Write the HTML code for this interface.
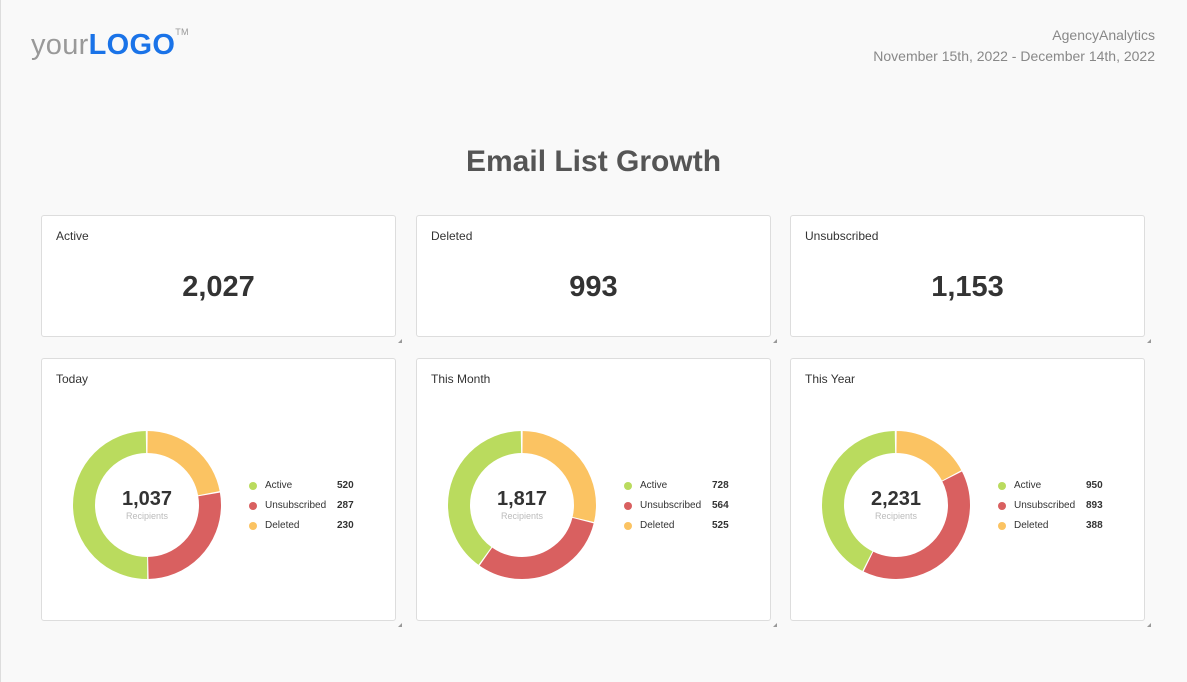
<!DOCTYPE html>
<html><head><style>
body{margin:0;width:1187px;height:682px;background:#f9f9f9;font-family:"Liberation Sans",Arial,sans-serif;position:relative;overflow:hidden}
.edge{position:absolute;left:0;top:0;width:1px;height:682px;background:#ddd}
.logo{position:absolute;left:31px;top:29px;font-size:29px;letter-spacing:.3px}
.logo .y{color:#999}.logo .l{color:#1a73e8;font-weight:bold}
.logo sup{font-size:9px;color:#999;vertical-align:top;position:relative;top:-2px}
.hdr{position:absolute;right:32px;top:25px;text-align:right;color:#888;font-size:14px;line-height:21px}
h1{position:absolute;left:0;width:1187px;top:145px;margin:0;text-align:center;font-size:30px;color:#555;font-weight:bold}
.card{position:absolute;background:#fff;border:1px solid #ddd;border-radius:3px;box-sizing:border-box}
.card .t{position:absolute;left:14px;top:13px;font-size:12px;color:#333}
.card .big{position:absolute;left:0;right:0;top:55px;text-align:center;font-size:29px;font-weight:bold;color:#333}
.rs{position:absolute;width:0;height:0;border-left:4px solid transparent;border-bottom:4px solid #999}
.ctr{position:absolute;width:120px;text-align:center;line-height:1}
.ctr b{display:block;font-size:20px;color:#333}
.ctr span{display:block;margin-top:3px;font-size:9px;color:#bbb}
.lg{position:absolute;font-size:10px;color:#333}
.lg div{position:relative;height:20px}
.lg i{position:absolute;left:0;top:1px;width:8px;height:8px;border-radius:50%}
.lg span{position:absolute;left:16px;top:-1px}
.lg b{position:absolute;left:88px;top:-1px}
</style></head><body>
<div class="edge"></div>
<div class="logo"><span class="y">your</span><span class="l">LOGO</span><sup>TM</sup></div>
<div class="hdr">AgencyAnalytics<br>November 15th, 2022 - December 14th, 2022</div>
<h1>Email List Growth</h1>

<div class="card" style="left:41px;top:215px;width:355px;height:122px"><div class="t">Active</div><div class="big">2,027</div></div>
<div class="card" style="left:416px;top:215px;width:355px;height:122px"><div class="t">Deleted</div><div class="big">993</div></div>
<div class="card" style="left:790px;top:215px;width:355px;height:122px"><div class="t">Unsubscribed</div><div class="big">1,153</div></div>
<div class="rs" style="left:398px;top:339px"></div><div class="rs" style="left:773px;top:339px"></div><div class="rs" style="left:1147px;top:339px"></div>

<div class="card" style="left:41px;top:358px;width:355px;height:263px"><div class="t">Today</div></div>
<div class="card" style="left:416px;top:358px;width:355px;height:263px"><div class="t">This Month</div></div>
<div class="card" style="left:790px;top:358px;width:355px;height:263px"><div class="t">This Year</div></div>
<div class="rs" style="left:398px;top:623px"></div><div class="rs" style="left:773px;top:623px"></div><div class="rs" style="left:1147px;top:623px"></div>

<svg style="position:absolute;left:0;top:0" width="1187" height="682">
<g fill="none" stroke-width="22">
<g transform="translate(147,505) rotate(-90)">
<circle r="63" pathLength="100" stroke="#fbc362" stroke-dasharray="22.18 100" stroke-dashoffset="0"/>
<circle r="63" pathLength="100" stroke="#d96060" stroke-dasharray="27.68 100" stroke-dashoffset="-22.18"/>
<circle r="63" pathLength="100" stroke="#badb5e" stroke-dasharray="50.14 100" stroke-dashoffset="-49.86"/>
<circle r="63" pathLength="100" stroke="#fff" stroke-width="23" stroke-dasharray="0.3 21.88 0.3 27.38 0.3 49.84" stroke-dashoffset="0.15"/>
</g>
<g transform="translate(522,505) rotate(-90)">
<circle r="63" pathLength="100" stroke="#fbc362" stroke-dasharray="28.89 100" stroke-dashoffset="0"/>
<circle r="63" pathLength="100" stroke="#d96060" stroke-dasharray="31.04 100" stroke-dashoffset="-28.89"/>
<circle r="63" pathLength="100" stroke="#badb5e" stroke-dasharray="40.07 100" stroke-dashoffset="-59.93"/>
<circle r="63" pathLength="100" stroke="#fff" stroke-width="23" stroke-dasharray="0.3 28.59 0.3 30.74 0.3 39.77" stroke-dashoffset="0.15"/>
</g>
<g transform="translate(896,505) rotate(-90)">
<circle r="63" pathLength="100" stroke="#fbc362" stroke-dasharray="17.39 100" stroke-dashoffset="0"/>
<circle r="63" pathLength="100" stroke="#d96060" stroke-dasharray="40.03 100" stroke-dashoffset="-17.39"/>
<circle r="63" pathLength="100" stroke="#badb5e" stroke-dasharray="42.58 100" stroke-dashoffset="-57.42"/>
<circle r="63" pathLength="100" stroke="#fff" stroke-width="23" stroke-dasharray="0.3 17.09 0.3 39.73 0.3 42.28" stroke-dashoffset="0.15"/>
</g>
</g>
</svg>

<div class="ctr" style="left:87px;top:489px"><b>1,037</b><span>Recipients</span></div>
<div class="ctr" style="left:462px;top:489px"><b>1,817</b><span>Recipients</span></div>
<div class="ctr" style="left:836px;top:489px"><b>2,231</b><span>Recipients</span></div>

<div class="lg" style="left:249px;top:481px">
<div><i style="background:#badb5e"></i><span>Active</span><b>520</b></div>
<div><i style="background:#d96060"></i><span>Unsubscribed</span><b>287</b></div>
<div><i style="background:#fbc362"></i><span>Deleted</span><b>230</b></div>
</div>
<div class="lg" style="left:624px;top:481px">
<div><i style="background:#badb5e"></i><span>Active</span><b>728</b></div>
<div><i style="background:#d96060"></i><span>Unsubscribed</span><b>564</b></div>
<div><i style="background:#fbc362"></i><span>Deleted</span><b>525</b></div>
</div>
<div class="lg" style="left:998px;top:481px">
<div><i style="background:#badb5e"></i><span>Active</span><b>950</b></div>
<div><i style="background:#d96060"></i><span>Unsubscribed</span><b>893</b></div>
<div><i style="background:#fbc362"></i><span>Deleted</span><b>388</b></div>
</div>
</body></html>
